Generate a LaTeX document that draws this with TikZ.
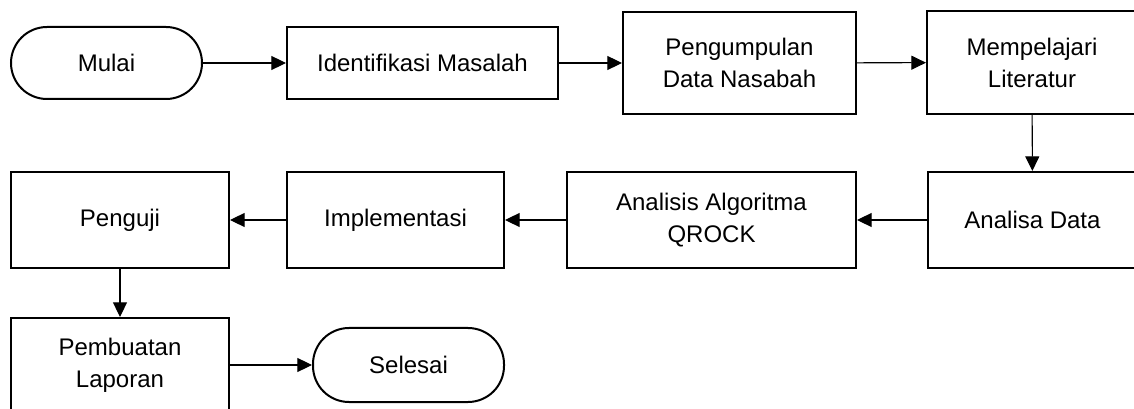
\documentclass[tikz,border=0pt]{standalone}
\usepackage{fontspec}
\setmainfont{Liberation Sans}
\usetikzlibrary{arrows.meta}
\begin{document}
\begin{tikzpicture}[x=0.75pt, y=-0.75pt,
  proses/.style={shape=rectangle, draw=black, line width=1.5pt, align=center, inner sep=0pt,
    font=\fontsize{18}{24}\selectfont},
  terminal/.style={proses, rounded corners=27pt},
  alur/.style={-{Triangle[length=11pt,width=10.5pt]}, line width=0.8pt, draw=black}]
\useasboundingbox (0,0) rectangle (1134,409);
\clip (0,0) rectangle (1134,409);
% baris pertama
\node[terminal, minimum width=143.25pt, minimum height=54pt] (mulai) at (106.5,63) {Mulai};
\node[proses, minimum width=203.25pt, minimum height=54pt] (identifikasi) at (422.5,63) {Identifikasi Masalah};
\node[proses, minimum width=174.75pt, minimum height=76.5pt] (pengumpulan) at (739.5,63) {Pengumpulan\\Data Nasabah};
\node[proses, minimum width=157.5pt, minimum height=77.25pt] (literatur) at (1032,62.5) {Mempelajari\\Literatur};
% baris kedua
\node[proses, minimum width=156.75pt, minimum height=72pt] (analisa) at (1032.5,220) {Analisa Data};
\node[proses, minimum width=216.75pt, minimum height=72pt] (qrock) at (711.5,220) {Analisis Algoritma\\QROCK};
\node[proses, minimum width=162.75pt, minimum height=72pt] (implementasi) at (395.5,220) {Implementasi};
\node[proses, minimum width=163.5pt, minimum height=72pt] (penguji) at (120,220) {Penguji};
% baris ketiga
\node[proses, minimum width=163.5pt, minimum height=70.5pt] (laporan) at (120,365) {Pembuatan\\Laporan};
\node[terminal, minimum width=143.25pt, minimum height=55.5pt] (selesai) at (408.5,365) {Selesai};
\path [alur] (mulai) edge (identifikasi);
\path [alur] (identifikasi) edge (pengumpulan);
\path [alur] (pengumpulan) edge (literatur);
\path [alur] (literatur) edge (analisa);
\path [alur] (analisa) edge (qrock);
\path [alur] (qrock) edge (implementasi);
\path [alur] (implementasi) edge (penguji);
\path [alur] (penguji) edge (laporan);
\path [alur] (laporan) edge (selesai);
\end{tikzpicture}
\end{document}
